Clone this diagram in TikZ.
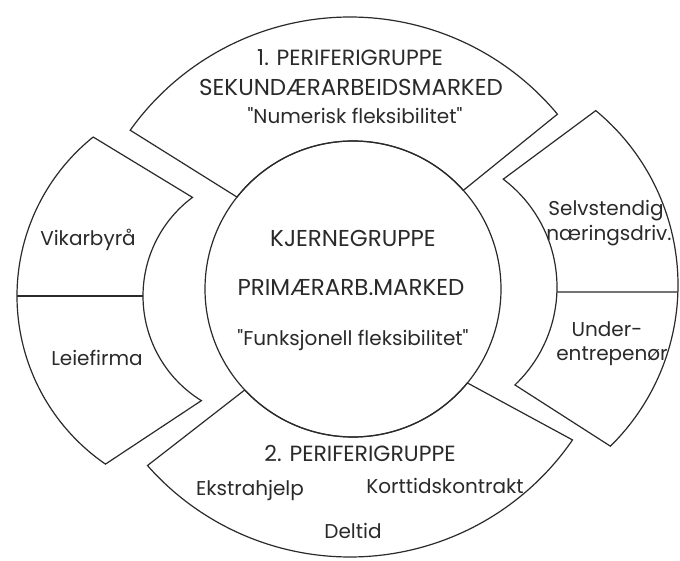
\documentclass[tikz,border=0pt]{standalone}
\usepackage{fontspec}
\setmainfont{Poppins}[Ligatures=TeXOff]
\usetikzlibrary{calc}
\definecolor{ink}{HTML}{2A2A2A}
\begin{document}
\begin{tikzpicture}[x=1pt,y=1pt,
  piece/.style={draw=ink, line width=1.2pt, line join=miter},
  lbl/.style={text=ink, inner sep=0pt, font=\fontsize{20}{24}\selectfont, text height=0.7em, text depth=0pt},
  caps/.style={lbl, font=\fontsize{23}{27}\selectfont},
  capsn/.style={lbl, font=\fontsize{22}{26}\selectfont}]
\useasboundingbox (0,0) rectangle (680,560);
\fill[white] (0,0) rectangle (680,560);

% centres of the circles that make up the ring
\coordinate (C)  at (353,271);  % core circle
\coordinate (O)  at (350,273);  % outer arc of top and bottom parts
\coordinate (OL) at (221,264);  % outer arc, left part
\coordinate (IL) at (266,264);  % inner arc, left part
\coordinate (OR) at (452,275);  % outer arc, right part
\coordinate (IR) at (422,273);  % inner arc, right part

% core
\draw[piece] (C) circle[radius=148];

% first periphery (top)
\draw[piece] ($(O)+(144.5:270)$) arc[start angle=144.5, end angle=39.8, radius=270]
  -- ($(C)+(41.8:148)$) arc[start angle=41.8, end angle=141.6, radius=148] -- cycle;

% second periphery (bottom)
\draw[piece] ($(C)+(223:148)$) -- ($(O)+(221.4:270)$)
  arc[start angle=221.4, end angle=325.5, radius=270]
  -- ($(C)+(320.6:148)$) arc[start angle=320.6, end angle=223, radius=148] -- cycle;

% left part
\draw[piece] ($(OL)+(128.8:204)$) arc[start angle=128.8, end angle=235.5, radius=204]
  -- ($(IL)+(238.3:123)$) arc[start angle=238.3, end angle=126.7, radius=123] -- cycle;
\draw[piece] ($(IL)+(180:123)$) -- ($(OL)+(180:204)$);

% right part
\draw[piece] ($(OR)+(50.5:226)$) arc[start angle=50.5, end angle=-45.5, radius=226]
  -- ($(IR)+(-46.5:135)$) arc[start angle=-46.5, end angle=53, radius=135] -- cycle;
\draw[piece] ($(IR)+(-2.1:135)$) -- ($(OR)+(-1.8:226)$);

% labels
\node[capsn] (p1)  at (350,498) {1. PERIFERIGRUPPE};
\node[caps]  (p1b) at (351,468) {SEKUNDÆRARBEIDSMARKED};
\node[lbl]   (p1c) at (355,440) {"Numerisk fleksibilitet"};
\node[caps]  (k1)  at (353,317) {KJERNEGRUPPE};
\node[caps]  (k2)  at (351,268) {PRIMÆRARB.MARKED};
\node[lbl]   (k3)  at (353,218) {"Funksjonell fleksibilitet"};
\node[lbl]   (v)   at (88,318)  {Vikarbyrå};
\node[lbl]   (l)   at (97,198)  {Leiefirma};
\node[lbl]   (s1)  at (606,348) {Selvstendig};
\node[lbl]   (s2)  at (609,323) {næringsdriv.};
\node[lbl]   (u1)  at (607,227) {Under-};
\node[lbl]   (u2)  at (612,203) {entrepenør};
\node[capsn] (p2)  at (360,102) {2. PERIFERIGRUPPE};
\node[lbl]   (e)   at (250,68)  {Ekstrahjelp};
\node[lbl]   (kt)  at (445,70)  {Korttidskontrakt};
\node[lbl]   (d)   at (353,25)  {Deltid};
\end{tikzpicture}
\end{document}
